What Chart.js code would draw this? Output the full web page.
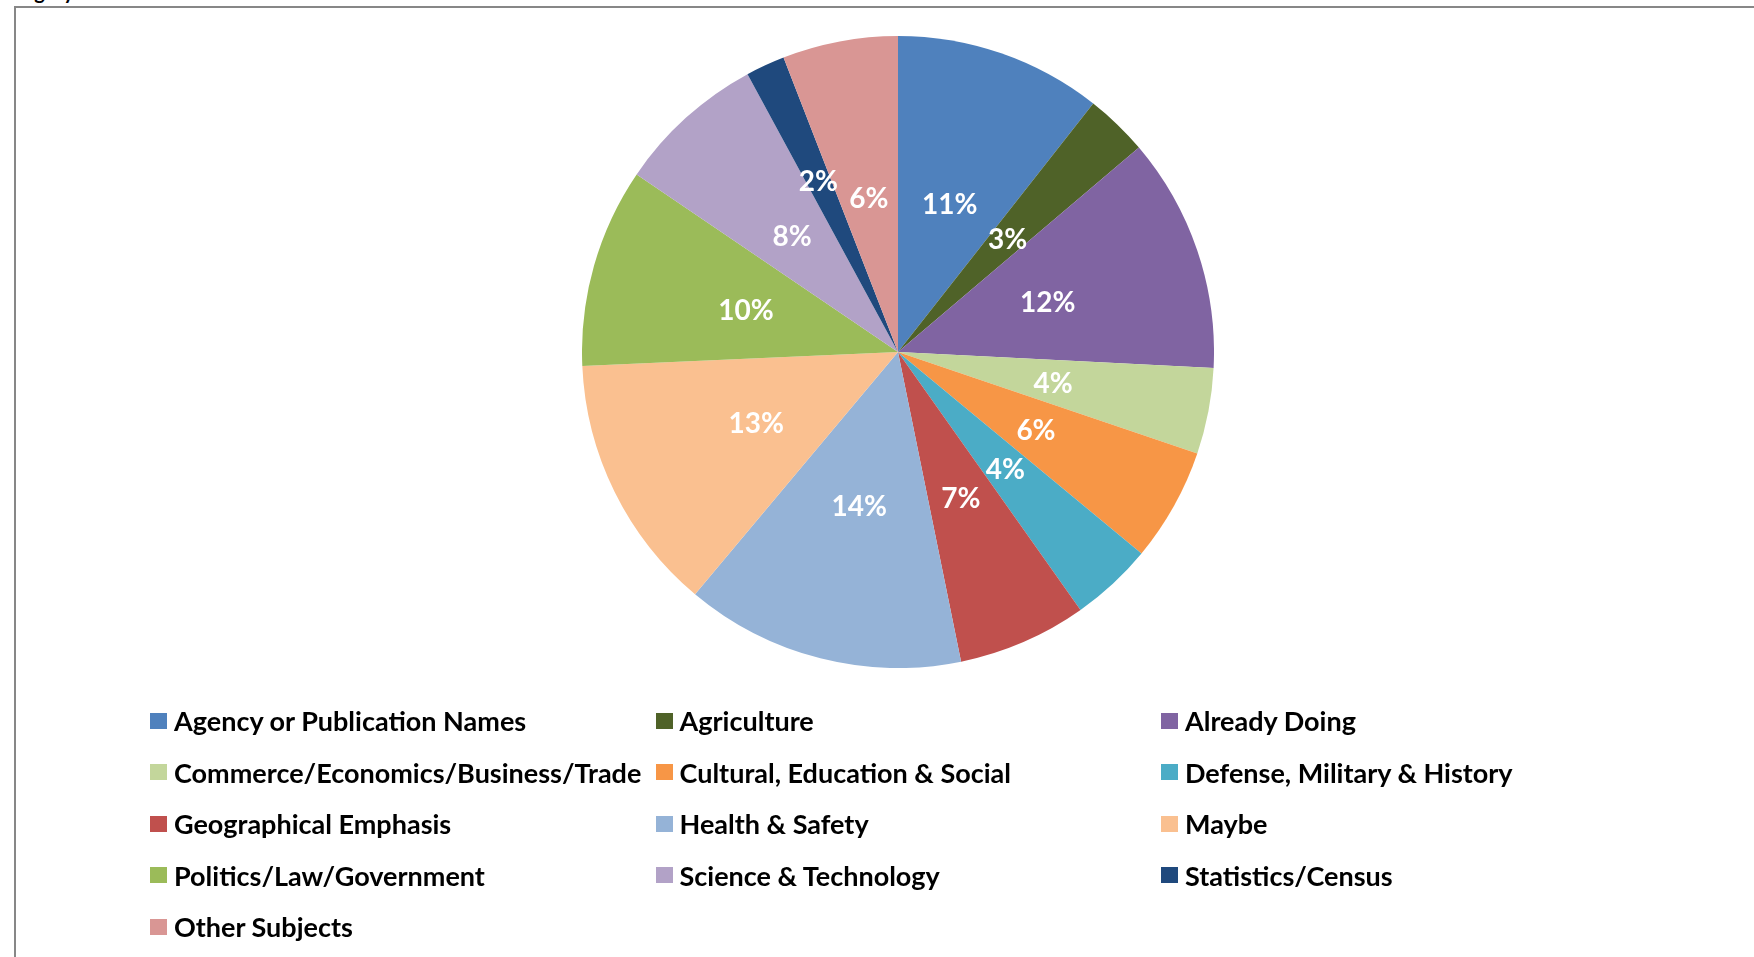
<!DOCTYPE html>
<html>
<head>
<meta charset="utf-8">
<script src="https://cdn.jsdelivr.net/npm/chart.js@4/dist/chart.umd.min.js"></script>
<style>
  html, body { margin: 0; padding: 0; background: #fff; width: 1754px; height: 957px; overflow: hidden; }
  #frame { position: absolute; left: 14px; top: 6px; width: 2000px; height: 1200px;
           border-left: 2px solid #878787; border-top: 2px solid #878787; box-sizing: border-box; }
  #cap { position: absolute; left: -7px; top: -21px; font: bold 20px Lato, "Liberation Sans", sans-serif; color: #000; }
  #pieBox { position: absolute; left: 582px; top: 36px; width: 632px; height: 632px; }
  #legend { position: absolute; left: 150px; top: 0; width: 1600px; height: 957px; }
  .item { position: absolute; display: flex; align-items: center; white-space: nowrap;
          font: bold 27px Lato, "Liberation Sans", sans-serif; color: #000; }
  .sw { width: 17px; height: 16px; margin-right: 7px; flex: none; }
</style>
</head>
<body>
<div id="cap">Category</div>
<div id="frame"></div>
<div id="pieBox"><canvas id="c"></canvas></div>
<div id="legend"></div>
<script>
const categories = [
  "Agency or Publication Names", "Agriculture", "Already Doing",
  "Commerce/Economics/Business/Trade", "Cultural, Education & Social", "Defense, Military & History",
  "Geographical Emphasis", "Health & Safety", "Maybe",
  "Politics/Law/Government", "Science & Technology", "Statistics/Census",
  "Other Subjects"
];
const shares = [10.6, 3.2, 12.0, 4.4, 5.8, 4.2, 6.6, 14.3, 13.2, 10.2, 7.6, 2.0, 5.9];
const colors = [
  "#4F81BD", "#4F6228", "#8064A2",
  "#C3D69B", "#F79646", "#4BACC6",
  "#C0504D", "#95B3D7", "#FAC090",
  "#9BBB59", "#B2A2C7", "#1F497D",
  "#D99694"
];

// HTML legend laid out in a 3-column grid
const legend = document.getElementById('legend');
const colX = [0, 505.5, 1011];
const rowY = [721.5, 773, 824.5, 876, 927.5];
categories.forEach((name, i) => {
  const d = document.createElement('div');
  d.className = 'item';
  d.style.left = colX[i % 3] + 'px';
  d.style.top = (rowY[Math.floor(i / 3)] - 17) + 'px';
  d.style.height = '32px';
  const sw = document.createElement('span');
  sw.className = 'sw';
  sw.style.background = colors[i];
  const t = document.createElement('span');
  t.textContent = name;
  d.appendChild(sw); d.appendChild(t);
  legend.appendChild(d);
});

const labelRadius = { default: 0.5, 11: 0.6 };

const pctLabels = {
  id: 'pctLabels',
  afterDatasetsDraw(chart) {
    const ctx = chart.ctx;
    const ds = chart.data.datasets[0];
    const total = ds.data.reduce((a, b) => a + b, 0);
    const meta = chart.getDatasetMeta(0);
    ctx.save();
    ctx.font = 'bold 28px Lato, "Liberation Sans", sans-serif';
    ctx.fillStyle = '#fff';
    ctx.textAlign = 'center';
    ctx.textBaseline = 'middle';
    meta.data.forEach((arc, i) => {
      const p = arc.getProps(['startAngle', 'endAngle', 'x', 'y', 'outerRadius'], true);
      const mid = (p.startAngle + p.endAngle) / 2;
      const f = labelRadius[i] !== undefined ? labelRadius[i] : labelRadius.default;
      const r = p.outerRadius * f;
      const x = p.x + Math.cos(mid) * r;
      const y = p.y + Math.sin(mid) * r + 2;
      ctx.fillText(Math.round(ds.data[i] / total * 100) + '%', x, y);
    });
    ctx.restore();
  }
};

new Chart(document.getElementById('c'), {
  type: 'pie',
  data: {
    labels: categories,
    datasets: [{ data: shares, backgroundColor: colors, borderWidth: 0 }]
  },
  options: {
    responsive: true,
    maintainAspectRatio: false,
    animation: false,
    layout: { padding: 0 },
    plugins: { legend: { display: false }, tooltip: { enabled: false } }
  },
  plugins: [pctLabels]
});
</script>
</body>
</html>
